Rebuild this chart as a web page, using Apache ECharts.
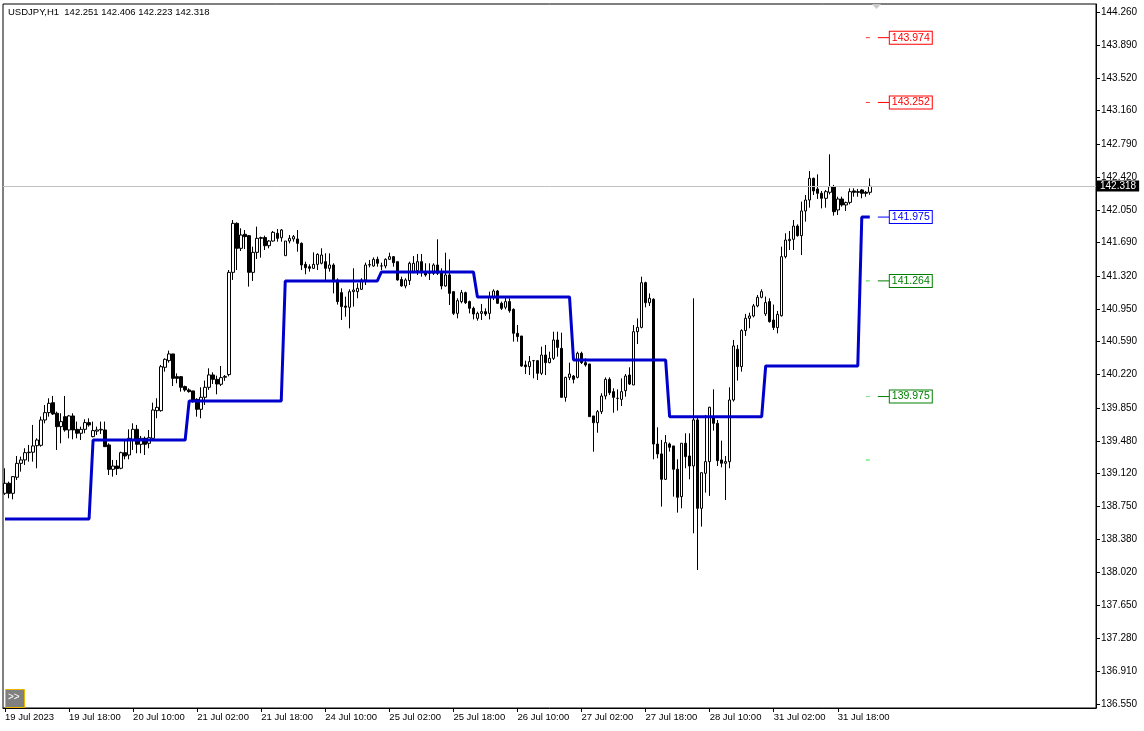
<!DOCTYPE html>
<html><head><meta charset="utf-8">
<script src="https://cdn.jsdelivr.net/npm/echarts@6/dist/echarts.min.js"></script>
<style>html,body{margin:0;padding:0;background:#fff}#c{width:1144px;height:731px}</style>
</head><body><div id="c"></div>
<script>
const headerText = 'USDJPY,H1  142.251 142.406 142.223 142.318';
const xTickLabels = ['19 Jul 2023','19 Jul 18:00','20 Jul 10:00','21 Jul 02:00','21 Jul 18:00','24 Jul 10:00','25 Jul 02:00','25 Jul 18:00','26 Jul 10:00','27 Jul 02:00','27 Jul 18:00','28 Jul 10:00','31 Jul 02:00','31 Jul 18:00'];
const yTickValues = [144.260,143.890,143.520,143.160,142.790,142.420,142.050,141.690,141.320,140.950,140.590,140.220,139.850,139.480,139.120,138.750,138.380,138.020,137.650,137.280,136.910,136.550];
// [open, high, low, close] per H1 bar
const ohlc = [
[138.897,139.176,138.879,139.009],[139.009,139.027,138.842,138.897],[138.897,139.090,138.830,139.083],[139.076,139.313,139.046,139.231],
[139.231,139.306,139.139,139.269],[139.269,139.399,139.213,139.350],[139.350,139.436,139.250,139.355],[139.355,139.659,139.250,139.425],
[139.428,139.510,139.176,139.491],[139.432,139.752,139.417,139.714],[139.714,139.881,139.677,139.796],[139.796,139.956,139.751,139.900],
[139.907,139.982,139.770,139.781],[139.789,139.807,139.380,139.640],[139.640,139.789,139.454,139.696],[139.751,139.982,139.584,139.603],
[139.603,139.770,139.510,139.759],[139.759,139.789,139.499,139.603],[139.610,139.696,139.510,139.566],[139.566,139.640,139.491,139.610],
[139.610,139.722,139.566,139.685],[139.685,139.733,139.640,139.659],[139.529,139.696,139.521,139.596],[139.590,139.640,139.547,139.603],
[139.603,139.696,139.558,139.610],[139.603,139.696,139.417,139.417],[139.436,139.454,139.101,139.164],[139.164,139.269,139.083,139.201],
[139.201,139.268,139.101,139.172],[139.176,139.361,139.165,139.350],[139.350,139.491,139.276,139.313],[139.324,139.610,139.276,139.510],
[139.491,139.677,139.380,139.610],[139.610,139.659,139.343,139.443],[139.443,139.536,139.343,139.510],[139.510,139.529,139.324,139.443],
[139.454,139.603,139.399,139.517],[139.510,139.907,139.491,139.825],[139.818,139.956,139.733,139.855],[139.818,140.327,139.807,140.308],
[140.301,140.401,140.253,140.390],[140.375,140.487,140.353,140.450],[140.450,140.450,140.093,140.178],[140.197,140.234,140.123,140.178],
[140.197,140.204,140.030,140.078],[140.086,140.097,140.030,140.049],[140.049,140.067,140.019,140.030],[140.038,140.038,139.907,139.937],
[139.944,139.956,139.751,139.833],[139.833,140.078,139.733,139.967],[139.967,140.153,139.881,140.078],[140.078,140.290,140.049,140.216],
[140.216,140.245,140.115,140.167],[140.167,140.208,140.000,140.115],[140.112,140.316,140.093,140.186],[140.190,140.215,140.150,140.200],
[140.220,141.385,140.200,141.359],[141.359,141.942,141.274,141.905],[141.905,141.916,141.385,141.627],[141.627,141.850,141.597,141.775],
[141.783,141.831,141.619,141.757],[141.768,141.775,141.200,141.359],[141.359,141.645,141.263,141.582],[141.582,141.868,141.508,141.738],
[141.738,141.757,141.523,141.746],[141.746,141.768,141.608,141.656],[141.656,141.719,141.627,141.708],[141.708,141.820,141.701,141.805],
[141.794,141.842,141.701,141.738],[141.745,141.842,141.701,141.831],[141.545,141.708,141.545,141.708],[141.708,141.775,141.682,141.738],
[141.731,141.775,141.701,141.757],[141.731,141.831,141.589,141.682],[141.682,141.693,141.385,141.441],[141.448,141.478,141.337,141.411],
[141.422,141.448,141.367,141.404],[141.404,141.582,141.396,141.448],[141.448,141.571,141.385,141.560],[141.460,141.627,141.448,141.552],
[141.478,141.571,141.263,141.404],[141.404,141.571,141.367,141.441],[141.441,141.460,141.125,141.274],[141.274,141.292,141.000,141.033],
[141.133,141.181,140.828,140.977],[140.984,141.088,140.865,140.970],[140.970,141.170,140.735,141.144],[141.144,141.404,140.977,141.162],
[141.144,141.237,141.070,141.181],[141.170,141.293,141.163,141.274],[141.274,141.467,141.218,141.441],[141.441,141.497,141.415,141.445],
[141.430,141.526,141.422,141.504],[141.504,141.534,141.422,141.460],[141.430,141.467,141.385,141.430],[141.430,141.515,141.404,141.504],
[141.504,141.578,141.497,141.534],[141.534,141.541,141.422,141.467],[141.478,141.478,141.267,141.274],[141.279,141.311,141.200,141.207],
[141.207,141.293,141.181,141.274],[141.267,141.478,141.218,141.460],[141.367,141.541,141.348,141.460],[141.378,141.564,141.330,141.478],
[141.478,141.564,141.311,141.367],[141.367,141.460,141.311,141.330],[141.348,141.460,141.274,141.367],[141.348,141.460,141.330,141.441],
[141.441,141.727,141.330,141.348],[141.367,141.404,141.170,141.207],[141.207,141.578,141.200,141.330],[141.330,141.504,140.995,141.125],
[141.144,141.144,140.884,140.902],[140.902,141.070,140.847,141.044],[141.033,141.163,141.014,141.133],[141.133,141.144,141.007,141.021],
[141.033,141.044,140.902,140.958],[140.958,140.977,140.835,140.895],[140.847,140.921,140.821,140.902],[140.902,141.007,140.828,140.921],
[140.921,140.958,140.873,140.895],[140.902,141.144,140.835,141.088],[141.088,141.170,141.051,141.151],[141.151,141.163,141.007,141.014],
[141.014,141.033,140.940,140.958],[140.970,141.088,140.947,141.033],[141.033,141.070,140.910,140.932],[140.947,140.958,140.587,140.680],
[140.680,140.773,140.587,140.643],[140.650,140.650,140.308,140.315],[140.327,140.375,140.227,140.308],[140.308,140.427,140.215,140.364],
[140.375,140.383,140.178,140.375],[140.375,140.383,140.160,140.234],[140.234,140.531,140.215,140.438],[140.438,140.550,140.215,140.353],
[140.353,140.475,140.346,140.401],[140.401,140.698,140.383,140.605],[140.605,140.698,140.420,140.523],[140.512,140.687,139.966,139.966],
[139.966,140.196,139.918,140.189],[140.189,140.353,140.159,140.226],[140.204,140.215,140.122,140.167],[140.189,140.475,140.178,140.457],
[140.457,140.475,140.338,140.353],[140.353,140.401,140.308,140.327],[140.338,140.338,139.751,139.751],[139.759,139.759,139.361,139.684],
[139.684,139.825,139.572,139.807],[139.807,140.011,139.781,139.981],[139.981,140.189,139.944,140.167],[140.167,140.189,139.992,140.018],
[140.030,140.067,139.795,139.966],[139.955,140.055,139.818,139.955],[139.944,140.178,139.870,140.030],[140.041,140.226,139.974,140.204],
[140.215,140.301,140.104,140.115],[140.104,140.772,140.104,140.698],[140.698,140.846,140.561,140.746],[140.746,141.311,140.735,141.244],
[141.244,141.255,140.969,141.021],[141.021,141.125,140.984,141.070],[141.059,141.070,139.276,139.446],[139.446,139.633,139.287,139.336],
[139.336,139.492,138.749,139.053],[139.053,139.547,139.046,139.462],[139.447,139.462,139.362,139.410],[139.425,139.425,138.860,139.165],
[139.165,139.276,138.682,138.853],[138.860,139.455,138.730,139.455],[139.455,139.566,139.176,139.306],[139.313,139.566,139.053,139.202],
[139.202,141.070,138.452,139.715],[139.715,139.759,138.043,138.730],[138.730,139.127,138.526,139.127],[139.120,139.770,138.905,139.250],
[139.250,139.860,138.868,139.856],[139.752,140.056,139.596,139.677],[139.677,139.714,139.202,139.261],[139.269,139.484,139.187,139.232],
[139.232,139.313,138.823,139.250],[139.250,140.078,139.176,139.937],[139.937,140.606,139.919,140.539],[140.502,140.550,140.153,140.309],
[140.309,140.725,140.253,140.710],[140.710,140.896,140.651,140.847],[140.847,140.910,140.736,140.873],[140.873,141.007,140.858,140.985],
[140.985,141.107,140.970,141.081],[141.081,141.170,141.070,141.144],[140.896,141.089,140.873,141.022],[141.033,141.070,140.799,140.810],
[140.828,141.000,140.717,140.745],[140.743,140.929,140.680,140.891],[140.876,141.645,140.866,141.534],[141.534,141.794,141.515,141.719],
[141.712,141.820,141.608,141.727],[141.727,141.942,141.608,141.875],[141.875,141.894,141.757,141.768],[141.768,142.147,141.552,142.043],
[142.043,142.221,141.924,142.165],[142.165,142.488,142.080,142.407],[142.407,142.414,142.221,142.266],[142.288,142.451,142.177,142.240],
[142.240,142.266,142.072,142.184],[142.184,142.277,142.080,142.258],[142.251,142.674,142.228,142.314],[142.314,142.333,141.991,142.035],
[142.054,142.202,141.998,142.176],[142.176,142.202,142.091,142.110],[142.110,142.147,142.043,142.136],[142.139,142.295,142.117,142.258],
[142.266,142.295,142.202,142.251],[142.258,142.288,142.202,142.251],[142.277,142.288,142.184,142.240],[142.251,142.266,142.202,142.240],
[142.251,142.406,142.223,142.318]
];
// daily indicator level (constant per trading day) and the bar where each day starts
const dayStartBars = [0,22,46,70,94,118,142,166,190,214];
const dayLevels = [138.611,139.491,139.926,141.263,141.363,141.085,140.383,139.751,140.316,141.975];
// right-hand level labels
const levelValues = [143.974,143.252,141.975,141.264,139.975];
const levelColors = ['#ff0000','#ff0000','#0000ff','#008000','#008000'];
const dashValues = [143.974,143.252,141.264,139.975,139.268];
const dashColors = ['#ff0000','#ff0000','#00e000','#60d060','#00e000'];
const lastPrice = 142.318;
const totalSlots = 273;

const FONT = "'Liberation Sans', Arial, sans-serif";
const categories = Array.from({length: totalSlots}, (_, i) => String(i));
const candleData = ohlc.map(d => [d[0], d[3], d[2], d[1]]);
const dayLine = ohlc.map((_, i) => {
  let k = 0;
  for (let j = 0; j < dayStartBars.length; j++) if (i >= dayStartBars[j]) k = j;
  return dayLevels[k];
});
const lastBar = ohlc.length - 1;

const levelSeries = levelValues.map((v, k) => ({
  type: 'line', data: [[lastBar + 2, v], [lastBar + 5, v]], showSymbol: false, silent: true, z: 5,
  lineStyle: {color: levelColors[k], width: 1},
  endLabel: {show: true, formatter: v.toFixed(3), color: levelColors[k], fontFamily: FONT, fontSize: 10.5,
    backgroundColor: '#fff', borderColor: levelColors[k], borderWidth: 1, padding: [1, 2, 0, 2], distance: 0}
}));

const chart = echarts.init(document.getElementById('c'));
chart.setOption({
  animation: false,
  backgroundColor: '#fff',
  title: {text: headerText, left: 8, top: 7, padding: 0, textStyle: {fontFamily: FONT, fontSize: 9.5, fontWeight: 'normal', color: '#000'}},
  grid: {left: 3, right: 48, top: 4, bottom: 23, show: true, borderColor: '#000', borderWidth: 1, backgroundColor: '#fff'},
  xAxis: {
    type: 'category', data: categories, boundaryGap: true,
    axisLine: {show: true, lineStyle: {color: '#000'}},
    axisTick: {show: true, alignWithLabel: true, length: 4, lineStyle: {color: '#000'},
      interval: (i) => i % 16 === 0 && i / 16 < xTickLabels.length},
    axisLabel: {interval: (i) => i % 16 === 0 && i / 16 < xTickLabels.length,
      formatter: (v, i) => xTickLabels[Math.round(i / 16)] || '',
      align: 'left', margin: 4, fontFamily: FONT, fontSize: 9.5, color: '#000'},
    splitLine: {show: false}
  },
  yAxis: {
    type: 'value', position: 'right', min: 136.505, max: 144.349, scale: true,
    axisLine: {show: true, lineStyle: {color: '#000'}},
    axisTick: {show: true, length: 4, lineStyle: {color: '#000'}, customValues: yTickValues},
    axisLabel: {customValues: yTickValues, formatter: v => v.toFixed(3), margin: 5, fontFamily: FONT, fontSize: 10, color: '#000'},
    splitLine: {show: false}
  },
  series: [
    {
      type: 'candlestick', data: candleData, barWidth: 3, z: 2,
      itemStyle: {color: '#fff', color0: '#000', borderColor: '#000', borderColor0: '#000', borderColorDoji: '#000', borderWidth: 1},
      markLine: {
        silent: true, symbol: ['none', 'none'], animation: false,
        data: [{yAxis: lastPrice}],
        lineStyle: {color: '#c0c0c0', width: 1, type: 'solid'},
        label: {show: true, position: 'end', formatter: lastPrice.toFixed(3), color: '#fff', backgroundColor: '#000',
          padding: [1, 3, 0, 3], distance: 1, fontFamily: FONT, fontSize: 10}
      }
    },
    {
      type: 'line', data: dayLine, showSymbol: false, silent: true, z: 4,
      lineStyle: {color: '#0000cd', width: 3}
    },
    ...levelSeries,
    {
      type: 'scatter', silent: true, z: 6,
      data: dashValues.map((v, k) => ({value: [lastBar - 1, v], itemStyle: {color: dashColors[k]}})),
      symbol: 'rect', symbolSize: [4, 1], symbolOffset: [2, 0]
    }
  ],
  graphic: [
    {type: 'rect', left: 5, top: 689, shape: {width: 19, height: 18}, style: {fill: '#808080', stroke: '#e8b800', lineWidth: 1}, z: 100},
    {type: 'text', left: 8, top: 692, style: {text: '>>', fill: '#fff', font: '10px ' + FONT}, z: 101},
    {type: 'polygon', shape: {points: [[872, 4], [881, 4], [876.5, 9]]}, style: {fill: '#c8c8c8'}, z: 100}
  ]
});
</script>
</body></html>
